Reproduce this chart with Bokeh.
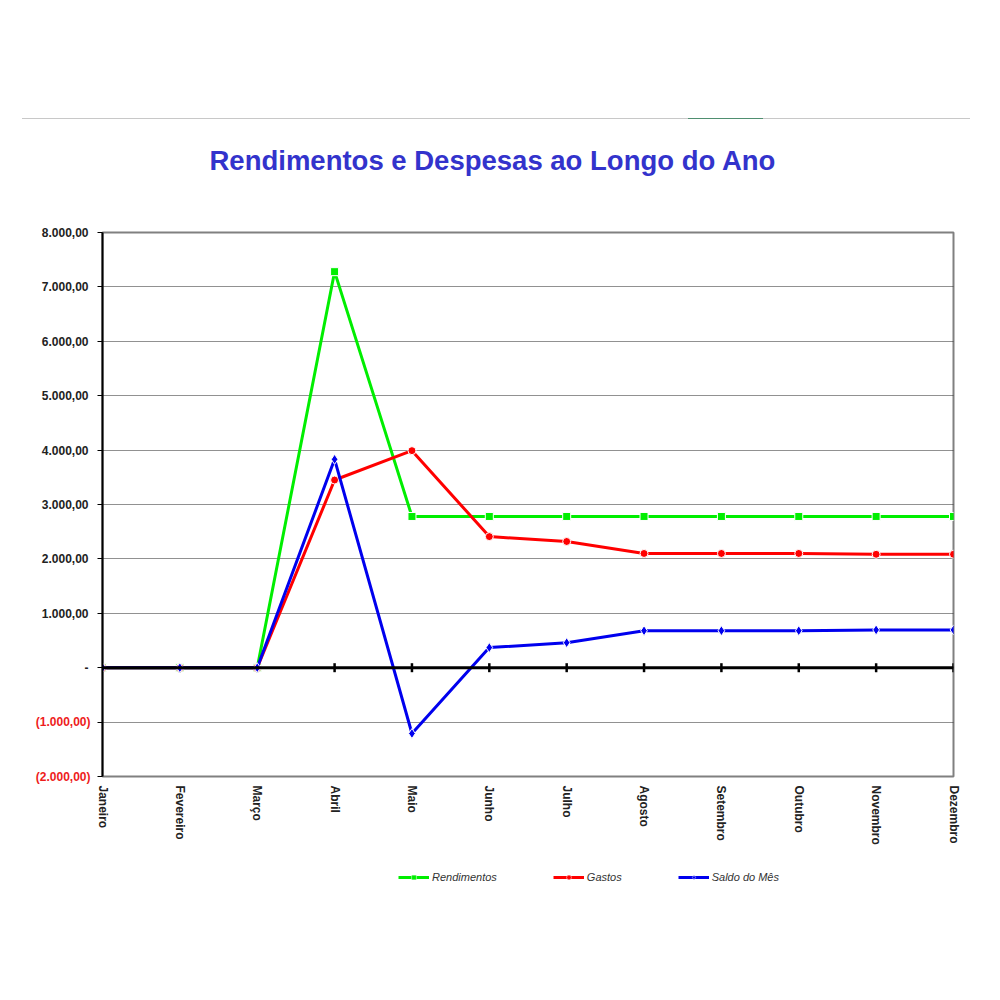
import numpy as np
from bokeh.plotting import figure
from bokeh.models import (Range1d, FixedTicker, LinearAxis, Legend, LegendItem,
                          Div, Span, Title)
from bokeh.layouts import column
from bokeh.embed import file_html
from bokeh.resources import INLINE

# ---------------- data ----------------
months = ["Janeiro", "Fevereiro", "Março", "Abril", "Maio", "Junho", "Julho",
          "Agosto", "Setembro", "Outubro", "Novembro", "Dezembro"]
rendimentos = [0, 0, 0, 7280, 2780, 2780, 2780, 2780, 2780, 2780, 2780, 2780]
gastos = [0, 0, 0, 3450, 3990, 2410, 2320, 2100, 2100, 2100, 2085, 2085]
saldo = [0, 0, 0, 3830, -1210, 370, 460, 680, 680, 680, 695, 695]
y_ticks = [-2000, -1000, 0, 1000, 2000, 3000, 4000, 5000, 6000, 7000, 8000]
series_names = ["Rendimentos", "Gastos", "Saldo do Mês"]
title_text = "Rendimentos e Despesas ao Longo do Ano"


def fmt(v):
    if v == 0:
        return "-"
    s = f"{abs(v):,.2f}".replace(",", "X").replace(".", ",").replace("X", ".")
    return f"({s})" if v < 0 else s


x_idx = list(range(len(months)))
series_vals = [rendimentos, gastos, saldo]
colors = ["#00EE00", "#FF0000", "#0000EE"]
markers = ["square", "circle", "diamond"]
sizes = [8, 8, 10]

# ---------------- header (page rule) ----------------
header = Div(
    text=('<div style="position:relative;width:1000px;height:120px;">'
          '<div style="position:absolute;left:22px;top:118px;width:948px;height:1px;background:#c8c8c8"></div>'
          '<div style="position:absolute;left:688px;top:118px;width:75px;height:1px;background:#4f8f70"></div>'
          '</div>'),
    width=1000, height=120, margin=(0, 0, 0, 0))

# ---------------- main figure ----------------
p = figure(frame_width=851, frame_height=544,
           x_range=Range1d(0, len(months) - 1), y_range=Range1d(-2000, 8000),
           output_backend="svg", toolbar_location=None,
           min_border_left=102, min_border_right=47,
           min_border_top=112, min_border_bottom=80,
           background_fill_color="white", border_fill_color="white")

# spacer between frame and title
p.add_layout(Title(text=" ", text_font_size="1px", standoff=34), "above")

p.title.text = title_text
p.title.align = "left"
p.title.offset = 107
p.title.text_font = "Liberation Sans"
p.title.text_font_style = "bold"
p.title.text_font_size = "27.5px"
p.title.text_color = "#3333CC"
p.title.standoff = 40

p.outline_line_color = "#808080"
p.outline_line_width = 2

# grid
p.xgrid.visible = False
p.ygrid.ticker = FixedTicker(ticks=y_ticks)
p.ygrid.grid_line_color = "#222222"
p.ygrid.grid_line_dash = "1 1"
p.ygrid.grid_line_width = 1

# y axis (black labels, non-negative)
ya = p.yaxis[0]
ya.ticker = FixedTicker(ticks=y_ticks)
ya.major_label_overrides = {v: (fmt(v) if v >= 0 else "") for v in y_ticks}
ya.major_label_text_font = "Liberation Sans"
ya.major_label_text_font_style = "bold"
ya.major_label_text_font_size = "12px"
ya.major_label_text_color = "#222222"
ya.axis_line_color = "black"
ya.axis_line_width = 2
ya.major_tick_line_color = "black"
ya.major_tick_out = 5
ya.major_tick_in = 0
ya.minor_tick_line_color = None
ya.major_label_standoff = 9

# red labels for negative values
neg_ticks = [v for v in y_ticks if v < 0]
ya2 = LinearAxis(ticker=FixedTicker(ticks=neg_ticks),
                 major_label_overrides={v: fmt(v) for v in neg_ticks})
ya2.major_label_text_font = "Liberation Sans"
ya2.major_label_text_font_style = "bold"
ya2.major_label_text_font_size = "12px"
ya2.major_label_text_color = "#EE1C1C"
ya2.axis_line_color = None
ya2.major_tick_line_color = None
ya2.minor_tick_line_color = None
ya2.major_tick_out = 0
ya2.major_tick_in = 0
ya2.major_label_standoff = -52
p.add_layout(ya2, "left")

# x axis
xa = p.xaxis[0]
xa.ticker = FixedTicker(ticks=x_idx)
xa.major_label_overrides = {i: m for i, m in zip(x_idx, months)}
xa.major_label_orientation = "vertical"
xa.major_label_text_font = "Liberation Sans"
xa.major_label_text_font_style = "bold"
xa.major_label_text_font_size = "12px"
xa.major_label_text_color = "#222222"
xa.axis_line_color = None
xa.major_tick_line_color = None
xa.minor_tick_line_color = None
xa.major_label_standoff = 3

# zero line with tick marks
p.add_layout(Span(location=0, dimension="width", line_color="black", line_width=3))
p.scatter(x=x_idx, y=[0] * len(x_idx), marker="dash", angle=np.pi / 2, size=9,
          line_color="black", line_width=2.5)

# series
for name, vals, col, mk, sz in zip(series_names, series_vals, colors, markers, sizes):
    p.line(x_idx, vals, line_color=col, line_width=3)
    p.scatter(x_idx, vals, marker=mk, size=sz, fill_color=col,
              line_color="white", line_width=1)

# ---------------- legend strip ----------------
# same series, drawn off-range so only their legend glyphs show
lg = figure(frame_width=1000, frame_height=44, x_range=Range1d(100, 101),
            y_range=Range1d(100000, 100001), output_backend="svg",
            toolbar_location=None, x_axis_type=None, y_axis_type=None,
            min_border=0, outline_line_color=None,
            background_fill_color="white", border_fill_color="white")
lg.xgrid.visible = False
lg.ygrid.visible = False
items = []
for name, vals, col, mk in zip(series_names, series_vals, colors, markers):
    ln = lg.line(x_idx, vals, line_color=col, line_width=3)
    sc = lg.scatter(x_idx, vals, marker=mk, size=5, fill_color=col,
                    line_color="white", line_width=0.5)
    items.append(LegendItem(label=name, renderers=[ln, sc]))

legend = Legend(items=items, orientation="horizontal", location=(398, 17))
legend.label_text_font = "Liberation Sans"
legend.label_text_font_style = "italic"
legend.label_text_font_size = "11px"
legend.label_text_color = "#333333"
legend.glyph_width = 31
legend.glyph_height = 12
legend.label_height = 12
legend.spacing = 56
legend.label_standoff = 3
legend.padding = 0
legend.margin = 0
legend.border_line_color = None
legend.background_fill_alpha = 0
lg.add_layout(legend)

layout = column(header, p, lg, spacing=0)
open("out.html", "w").write(file_html(layout, INLINE))
